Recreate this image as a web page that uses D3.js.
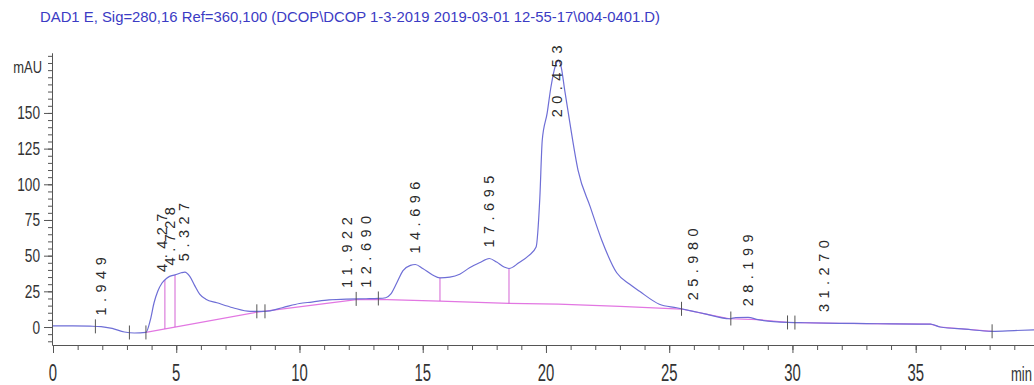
<!DOCTYPE html>
<html><head><meta charset="utf-8">
<script src="https://cdn.jsdelivr.net/npm/d3@7"></script>
<style>
html,body{margin:0;padding:0;background:#fff;}
svg{display:block;font-family:"Liberation Sans",Arial,sans-serif;}
</style></head>
<body><svg id="chart" width="1034" height="385"></svg>
<script>
// Run header
const titleText = "DAD1 E, Sig=280,16 Ref=360,100 (DCOP\\DCOP 1-3-2019 2019-03-01 12-55-17\\004-0401.D)";

// Detector trace (retention time in min, absorbance in mAU)
const times = [0, 0.8, 1.5, 1.95, 2.4, 2.9, 3.3, 3.77, 3.95, 4.1, 4.25, 4.43, 4.6, 4.73, 4.95, 5.2, 5.35, 5.55, 5.75, 5.95, 6.2, 6.65, 7.3, 8.0, 8.6, 9.3, 10.0, 10.5, 11.2, 11.9, 12.7, 13.2, 13.5, 13.7, 13.95, 14.2, 14.5, 14.7, 15.0, 15.4, 15.7, 16.1, 16.5, 16.9, 17.3, 17.7, 18.0, 18.3, 18.5, 18.9, 19.3, 19.6, 19.75, 19.85, 20.05, 20.2, 20.4, 20.5, 20.62, 20.76, 20.97, 21.3, 21.8, 22.26, 22.87, 23.4, 23.8, 24.6, 25.3, 25.98, 26.5, 27.45, 27.7, 28.2, 28.6, 29.8, 30.5, 31.9, 33, 34, 35.6, 36.0, 37, 38.1, 39.0, 39.8];
const signal = [0.8, 0.8, 0.6, 0.3, -1, -3.5, -4.2, -3.8, 5, 17, 25, 31, 34, 35.5, 36.5, 38, 38.5, 35.5, 29, 23, 19.5, 17, 13.5, 11, 11, 13.5, 16.5, 17.5, 19, 19.6, 19.8, 20, 20.5, 23, 31, 39.5, 43.2, 43.8, 41, 36.5, 34.5, 35, 37, 41.5, 45, 48, 45.5, 42, 41, 45, 50, 56, 90, 131, 150, 168, 184, 187, 182, 166, 143, 110, 84, 61, 38, 30, 25, 16, 13.5, 11, 9, 5.8, 6.6, 6.8, 5.2, 3.2, 3, 2.6, 2.4, 2.2, 2, 0, -1.5, -3, -2.5, -2];

// Integration baseline
const baseTimes = [3.77, 8.3, 12.3, 13.2, 15.7, 18.5, 20.5, 23, 25.5, 26.5, 27.45, 28.6, 29.8, 31.9, 35.6, 36.0, 38.1];
const baseValues = [-3.8, 10.5, 19.2, 19.4, 18.2, 16.5, 16, 14.5, 12.6, 9, 5.8, 5.2, 3.2, 2.6, 2, 0, -3];

// Peak retention times and their printed labels
const peakTimes = [1.949, 4.427, 4.728, 5.327, 11.922, 12.690, 14.696, 17.695, 20.453, 25.980, 28.199, 31.270];
const peakLabels = ["1.949", "4.427", "4.728", "5.327", "11.922", "12.690", "14.696", "17.695", "20.453", "25.980", "28.199", "31.270"];

// Peak start/end marks and drop lines
const markTimes = [1.72, 3.1, 3.77, 8.27, 8.6, 12.3, 13.2, 25.5, 27.5, 29.8, 30.1, 38.1];
const dropTimes = [4.54, 4.95, 15.7, 18.5];

// Axis ticks
const xTickValues = [0, 5, 10, 15, 20, 25, 30, 35];
const xTickLabels = ["0", "5", "10", "15", "20", "25", "30", "35"];
const yTickValues = [0, 25, 50, 75, 100, 125, 150];
const yTickLabels = ["0", "25", "50", "75", "100", "125", "150"];

const svg = d3.select("#chart");
const x = d3.scaleLinear().domain([0, 39.8]).range([53, 1034]);
const y = d3.scaleLinear().domain([-12.6, 192]).range([345, 53]);

function interp(ts, vs, t) {
  let i = d3.bisectRight(ts, t);
  if (i <= 0) return vs[0];
  if (i >= ts.length) return vs[vs.length - 1];
  const t0 = ts[i - 1], t1 = ts[i];
  return vs[i - 1] + (vs[i] - vs[i - 1]) * (t - t0) / (t1 - t0);
}

// Title
svg.append("text")
  .attr("x", 40).attr("y", 22)
  .attr("font-size", 15)
  .attr("fill", "#3b3bc4")
  .attr("textLength", 620)
  .attr("lengthAdjust", "spacingAndGlyphs")
  .text(titleText);

// Axes
const axisColor = "#555";
const xMinor = d3.range(0, 40, 1);
const yMinor = d3.range(-10, 191, 5);

const gx = svg.append("g").attr("transform", "translate(0,345)");
gx.call(d3.axisBottom(x).tickValues(xMinor).tickSize(5).tickSizeOuter(0).tickFormat(""));
gx.append("g").call(d3.axisBottom(x).tickValues(xTickValues).tickSize(8).tickSizeOuter(0).tickFormat(""));
gx.selectAll("path,line").attr("stroke", axisColor);

const gy = svg.append("g").attr("transform", "translate(52,0)");
gy.call(d3.axisLeft(y).tickValues(yMinor).tickSize(4).tickSizeOuter(0).tickFormat(""));
gy.append("g").call(d3.axisLeft(y).tickValues(yTickValues).tickSize(8).tickSizeOuter(0).tickFormat(""));
gy.selectAll("path,line").attr("stroke", axisColor);

// Condensed tick labels
svg.append("g").selectAll("text").data(xTickValues).join("text")
  .attr("transform", d => `translate(${x(d)},381) scale(0.62,1)`)
  .attr("text-anchor", "middle")
  .attr("font-size", 24)
  .attr("fill", "#333")
  .text((d, i) => xTickLabels[i]);

svg.append("g").selectAll("text").data(yTickValues).join("text")
  .attr("transform", d => `translate(40,${y(d) + 6.5}) scale(0.76,1)`)
  .attr("text-anchor", "end")
  .attr("font-size", 18)
  .attr("fill", "#333")
  .text((d, i) => yTickLabels[i]);

svg.append("text")
  .attr("transform", "translate(42,73) scale(0.76,1)")
  .attr("text-anchor", "end")
  .attr("font-size", 17)
  .attr("fill", "#333")
  .text("mAU");

svg.append("text")
  .attr("transform", "translate(1032,381) scale(0.62,1)")
  .attr("text-anchor", "end")
  .attr("font-size", 21)
  .attr("fill", "#333")
  .text("min");

// Baseline
const line = d3.line().x(d => x(d[0])).y(d => y(d[1]));
svg.append("path")
  .datum(baseTimes.map((t, i) => [t, baseValues[i]]))
  .attr("d", line)
  .attr("fill", "none")
  .attr("stroke", "#e277e2")
  .attr("stroke-width", 1.2);

// Drop lines from trace to baseline
svg.append("g").selectAll("line").data(dropTimes).join("line")
  .attr("x1", d => x(d)).attr("x2", d => x(d))
  .attr("y1", d => y(interp(times, signal, d)))
  .attr("y2", d => y(interp(baseTimes, baseValues, d)))
  .attr("stroke", "#d463d4")
  .attr("stroke-width", 1);

// Trace
svg.append("path")
  .datum(times.map((t, i) => [t, signal[i]]))
  .attr("d", line.curve(d3.curveMonotoneX))
  .attr("fill", "none")
  .attr("stroke", "#6e6ed6")
  .attr("stroke-width", 1.2);

// Start/end marks
svg.append("g").selectAll("line").data(markTimes).join("line")
  .attr("x1", d => x(d)).attr("x2", d => x(d))
  .attr("y1", d => y(interp(times, signal, d)) - 7)
  .attr("y2", d => y(interp(times, signal, d)) + 7)
  .attr("stroke", "#555")
  .attr("stroke-width", 1);

// Retention time labels
const labels = svg.append("g").selectAll("text").data(peakTimes).join("text")
  .attr("font-size", 14.5)
  .attr("letter-spacing", "5.5px")
  .attr("fill", "#2a2a2a")
  .attr("dy", "0.35em")
  .text((d, i) => peakLabels[i]);

labels.each(function(d) {
  const len = this.getComputedTextLength();
  let yPos = y(interp(times, signal, d)) - 11;
  if (yPos - len < 40) yPos = 40 + len;
  d3.select(this).attr("transform", `translate(${x(d)},${yPos}) rotate(-90)`);
});
</script>
</body></html>
